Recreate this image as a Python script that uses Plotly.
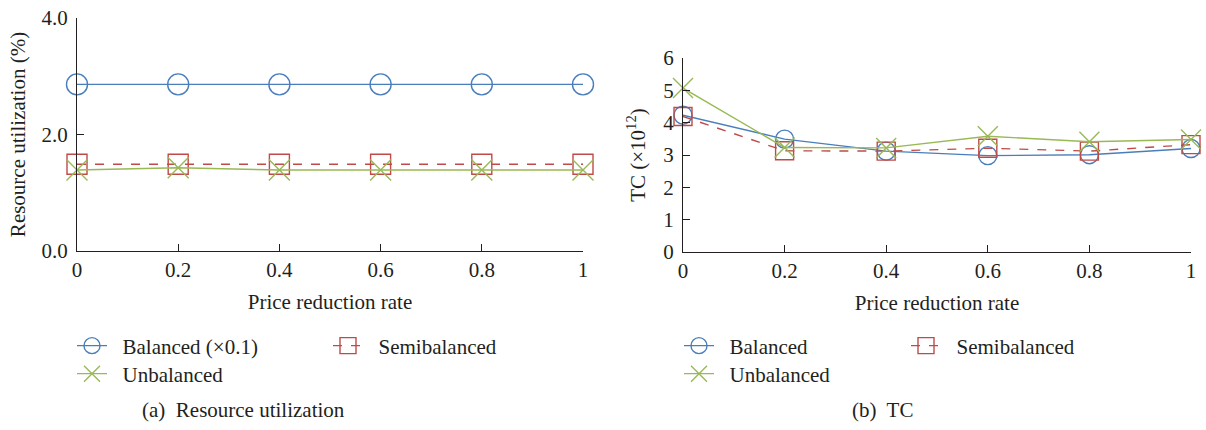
import plotly.graph_objects as go

# ---- data ----
rate = [0, 0.2, 0.4, 0.6, 0.8, 1]
rate_labels = ["0", "0.2", "0.4", "0.6", "0.8", "1"]

# (a) Resource utilization (%)
ru_balanced = [2.86, 2.86, 2.86, 2.86, 2.86, 2.86]   # x0.1
ru_semibalanced = [1.49, 1.49, 1.49, 1.49, 1.49, 1.49]
ru_unbalanced = [1.39, 1.43, 1.39, 1.39, 1.39, 1.39]

# (b) TC (x10^12)
tc_balanced = [4.23, 3.49, 3.12, 2.98, 3.01, 3.20]
tc_semibalanced = [4.19, 3.13, 3.12, 3.21, 3.12, 3.32]
tc_unbalanced = [5.07, 3.23, 3.22, 3.58, 3.41, 3.48]

BLUE = "#4a7ebb"
RED = "#be4b48"
GREEN = "#98b954"
TXT = "#231f20"
FONT = "Liberation Serif"
FS = 21
W, H = 1206, 430


def px_x(p):
    return p / W


def px_y(p):
    return 1 - p / H


fig = go.Figure()


def add_series(x, y, name, color, dash, symbol, size, xa, ya, legend):
    fig.add_trace(go.Scatter(
        x=x, y=y, name="\u2002" + name, mode="lines+markers",
        line=dict(color=color, width=1.4, dash=dash),
        marker=dict(symbol=symbol, size=size, color=color,
                    line=dict(color=color, width=1.4)),
        xaxis=xa, yaxis=ya, legend=legend, cliponaxis=False,
    ))


# left panel
add_series(rate, ru_balanced, "Balanced (\u00d70.1)", BLUE, "solid", "circle-open", 21, "x", "y", "legend")
add_series(rate, ru_semibalanced, "Semibalanced", RED, "dash", "square-open", 20, "x", "y", "legend")
add_series(rate, ru_unbalanced, "Unbalanced", GREEN, "solid", "x-thin-open", 21, "x", "y", "legend2")
# right panel
add_series(rate, tc_balanced, "Balanced", BLUE, "solid", "circle-open", 18, "x2", "y2", "legend3")
add_series(rate, tc_semibalanced, "Semibalanced", RED, "dash", "square-open", 18, "x2", "y2", "legend3")
add_series(rate, tc_unbalanced, "Unbalanced", GREEN, "solid", "x-thin-open", 20, "x2", "y2", "legend4")

tfont = dict(family=FONT, size=FS, color=TXT)
axis_common = dict(
    showgrid=False, zeroline=False, showline=True, linecolor=TXT, linewidth=1.3,
    ticks="inside", ticklen=7, tickwidth=1.3, tickcolor=TXT,
    tickfont=tfont, automargin=False, ticklabeloverflow="allow",
)

fig.update_layout(
    width=W, height=H,
    margin=dict(l=0, r=0, t=0, b=0),
    paper_bgcolor="white", plot_bgcolor="white",
    font=tfont,
    showlegend=True,
    xaxis=dict(domain=[px_x(77), px_x(583)], range=[0, 1], anchor="y",
               tickvals=rate, ticktext=rate_labels,
               title=dict(text="Price reduction rate", font=tfont, standoff=12),
               **axis_common),
    yaxis=dict(domain=[px_y(251), px_y(18)], range=[0, 4], anchor="x",
               tickvals=[0, 2, 4], ticktext=["0.0", "2.0", "4.0"], ticklabelstandoff=4,
               title=dict(text="Resource utilization (%)", font=tfont, standoff=10),
               **axis_common),
    xaxis2=dict(domain=[px_x(683), px_x(1191)], range=[0, 1], anchor="y2",
                tickvals=rate, ticktext=rate_labels,
                title=dict(text="Price reduction rate", font=tfont, standoff=12),
                **axis_common),
    yaxis2=dict(domain=[px_y(252), px_y(58)], range=[0, 6], anchor="x2",
                tickvals=[0, 1, 2, 3, 4, 5, 6], ticklabelstandoff=4,
                title=dict(text="TC (\u00d710<sup>12</sup>)", font=tfont, standoff=11),
                **axis_common),
)

leg_common = dict(orientation="h", bgcolor="rgba(0,0,0,0)", borderwidth=0,
                  font=tfont, xanchor="left", yanchor="middle")

fig.update_layout(
    legend=dict(x=px_x(72), y=px_y(346), entrywidth=211, **leg_common),
    legend2=dict(x=px_x(72), y=px_y(374), **leg_common),
    legend3=dict(x=px_x(679), y=px_y(346), entrywidth=182, **leg_common),
    legend4=dict(x=px_x(679), y=px_y(374), **leg_common),
)

fig.add_annotation(text="(a)\u00a0 Resource utilization", x=px_x(243), y=px_y(410),
                   xref="paper", yref="paper", showarrow=False,
                   font=tfont, xanchor="center", yanchor="middle")
fig.add_annotation(text="(b)\u00a0 TC", x=px_x(882), y=px_y(410),
                   xref="paper", yref="paper", showarrow=False,
                   font=tfont, xanchor="center", yanchor="middle")

fig.write_html("out.html", config={"displayModeBar": False},
               post_script="document.body.style.margin='0';")
